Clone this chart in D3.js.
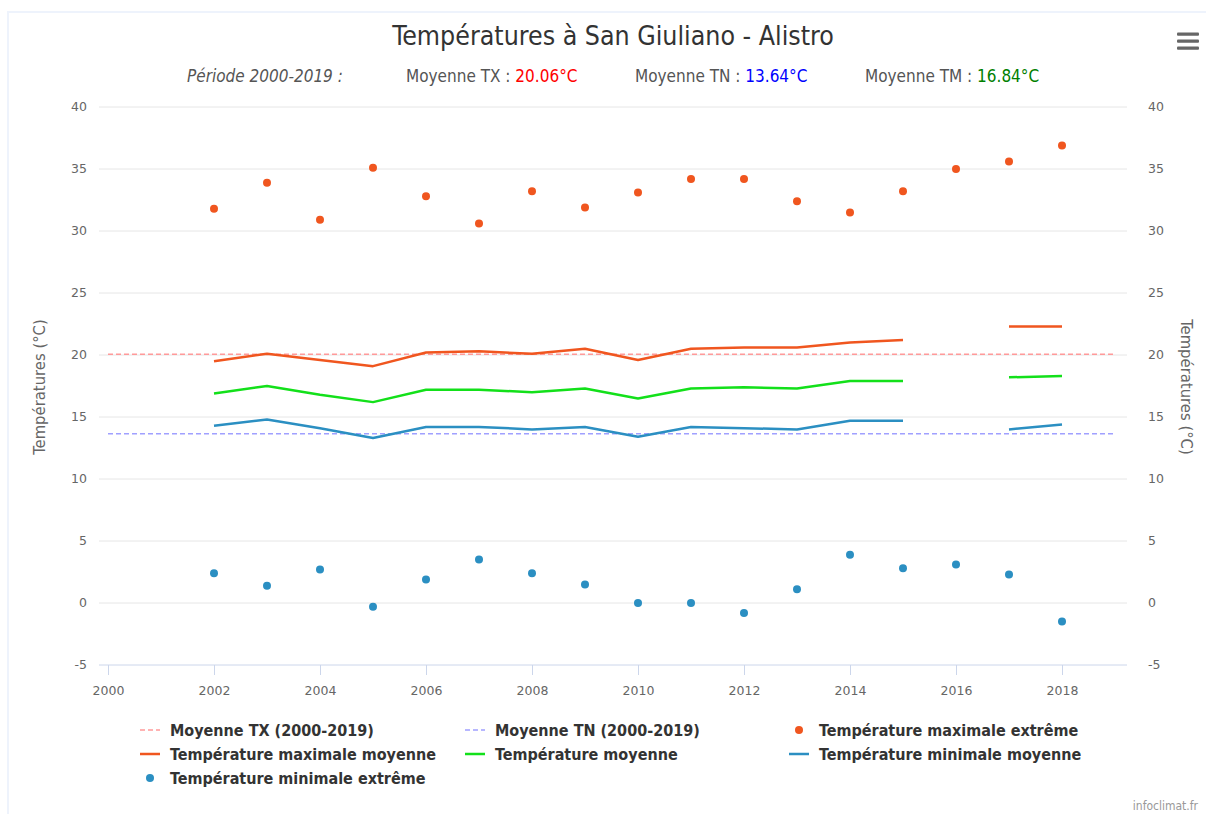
<!DOCTYPE html>
<html>
<head>
<meta charset="utf-8">
<script src="https://cdn.jsdelivr.net/npm/d3@7/dist/d3.min.js"></script>
<style>
  body { margin: 0; background: #fff; }
  svg { display: block; }
  .cond { font-family: "DejaVu Sans Condensed", "Liberation Sans Narrow", "Open Sans", sans-serif; }
  .tick-lbl { font-family: "DejaVu Sans", Verdana, sans-serif; font-size: 12.5px; fill: #666; }
</style>
</head>
<body>
<svg id="chart" width="1206" height="814"></svg>
<script>
// data
const years = [2002, 2003, 2004, 2005, 2006, 2007, 2008, 2009, 2010, 2011, 2012, 2013, 2014, 2015, 2016, 2017, 2018]
const txExtreme = [31.8, 33.9, 30.9, 35.1, 32.8, 30.6, 33.2, 31.9, 33.1, 34.2, 34.2, 32.4, 31.5, 33.2, 35.0, 35.6, 36.9]
const txMean = [19.5, 20.1, 19.6, 19.1, 20.2, 20.3, 20.1, 20.5, 19.6, 20.5, 20.6, 20.6, 21.0, 21.2, null, 22.3, 22.3]
const tmMean = [16.9, 17.5, 16.8, 16.2, 17.2, 17.2, 17.0, 17.3, 16.5, 17.3, 17.4, 17.3, 17.9, 17.9, null, 18.2, 18.3]
const tnMean = [14.3, 14.8, 14.1, 13.3, 14.2, 14.2, 14.0, 14.2, 13.4, 14.2, 14.1, 14.0, 14.7, 14.7, null, 14.0, 14.4]
const tnExtreme = [2.4, 1.4, 2.7, -0.3, 1.9, 3.5, 2.4, 1.5, 0.0, 0.0, -0.8, 1.1, 3.9, 2.8, 3.1, 2.3, -1.5]
const periodYears = [2000, 2019]
const avgTX = 20.06, avgTN = 13.64, avgTM = 16.84
const yTicks = [-5, 0, 5, 10, 15, 20, 25, 30, 35, 40]
const xTicks = [2000, 2002, 2004, 2006, 2008, 2010, 2012, 2014, 2016, 2018]

const colTX = '#f0561f', colTM = '#13e01a', colTN = '#2b8fc2'
const colAvgTX = '#ff9a9a', colAvgTN = '#a0a0ff'

var svg = d3.select('#chart')
var plotLeft = 99, plotRight = 1127

var x = d3.scaleLinear().domain([2000, 2018]).range([108, 1062])
var y = d3.scaleLinear().domain([-5, 40]).range([665, 107])

// faint container border
svg.append('path')
  .attr('d', 'M8,814 V12 H1206')
  .attr('fill', 'none')
  .attr('stroke', '#eef3fc')
  .attr('stroke-width', 2)

// title + subtitle
svg.append('text').attr('class', 'cond')
  .attr('x', 613).attr('y', 45)
  .attr('text-anchor', 'middle')
  .style('font-size', '26.5px').style('fill', '#333')
  .text('Températures à San Giuliano - Alistro')

var sub = svg.append('g').attr('class', 'cond').style('font-size', '17px').style('fill', '#555')
sub.append('text').attr('x', 187).attr('y', 82).style('font-style', 'italic').text('Période 2000-2019 :')
function subItem(xp, label, val, col) {
  var t = sub.append('text').attr('x', xp).attr('y', 82)
  t.append('tspan').text(label + ' : ')
  t.append('tspan').style('fill', col).text(val.toFixed(2) + '°C')
}
subItem(406, 'Moyenne TX', avgTX, '#ff0000')
subItem(635, 'Moyenne TN', avgTN, '#0000ff')
subItem(865, 'Moyenne TM', avgTM, '#008000')

// hamburger
var menu = svg.append('g')
;[34, 41, 48].forEach(function(yy) {
  menu.append('rect').attr('x', 1177).attr('y', yy - 1.5).attr('width', 22).attr('height', 3.2).attr('rx', 1).attr('fill', '#666')
})

// grid
svg.append('g').selectAll('line')
  .data(yTicks.filter(d => d !== -5))
  .enter().append('line')
  .attr('x1', plotLeft).attr('x2', plotRight)
  .attr('y1', d => y(d)).attr('y2', d => y(d))
  .attr('stroke', '#e6e6e6')

// left / right y labels
svg.append('g').selectAll('text')
  .data(yTicks).enter().append('text')
  .attr('class', 'tick-lbl')
  .attr('x', 87).attr('y', d => y(d) + 4)
  .attr('text-anchor', 'end')
  .text(d => d)
svg.append('g').selectAll('text')
  .data(yTicks).enter().append('text')
  .attr('class', 'tick-lbl')
  .attr('x', 1148).attr('y', d => y(d) + 4)
  .text(d => d)

// axis titles
svg.append('text').attr('class', 'cond')
  .attr('transform', 'translate(45,387) rotate(-90)')
  .attr('text-anchor', 'middle')
  .style('font-size', '16.5px').style('fill', '#666')
  .text('Températures (°C)')
svg.append('text').attr('class', 'cond')
  .attr('transform', 'translate(1181,387) rotate(90)')
  .attr('text-anchor', 'middle')
  .style('font-size', '16.5px').style('fill', '#666')
  .text('Températures (°C)')

// x axis
var xAxis = d3.axisBottom(x).tickValues(xTicks).tickFormat(d3.format('d')).tickSize(10).tickSizeOuter(0)
var gx = svg.append('g').attr('transform', 'translate(0,' + y(-5) + ')').call(xAxis)
gx.select('.domain').remove()
gx.selectAll('.tick line').attr('stroke', '#ccd6eb')
gx.selectAll('.tick text').attr('class', 'tick-lbl').attr('dy', null).attr('y', 30).attr('fill', null)
svg.append('line')
  .attr('x1', plotLeft).attr('x2', plotRight)
  .attr('y1', y(-5)).attr('y2', y(-5))
  .attr('stroke', '#ccd6eb')

// reference averages (dashed)
function avgLine(v, col) {
  svg.append('line')
    .attr('x1', x(periodYears[0])).attr('x2', x(periodYears[1]))
    .attr('y1', y(v)).attr('y2', y(v))
    .attr('stroke', col).attr('stroke-width', 1.5)
    .attr('stroke-dasharray', '5,3')
}
avgLine(avgTX, colAvgTX)
avgLine(avgTN, colAvgTN)

// series lines
var line = d3.line()
  .defined(d => d[1] !== null)
  .x(d => x(d[0]))
  .y(d => y(d[1]))
function series(vals, col) {
  svg.append('path')
    .datum(years.map((yr, i) => [yr, vals[i]]))
    .attr('d', line)
    .attr('fill', 'none')
    .attr('stroke', col)
    .attr('stroke-width', 2.5)
    .attr('stroke-linejoin', 'round')
}
series(txMean, colTX)
series(tmMean, colTM)
series(tnMean, colTN)

// extreme points
function dots(vals, col) {
  svg.append('g').selectAll('circle')
    .data(years.map((yr, i) => [yr, vals[i]]))
    .enter().append('circle')
    .attr('cx', d => x(d[0]))
    .attr('cy', d => y(d[1]))
    .attr('r', 4)
    .attr('fill', col)
}
dots(txExtreme, colTX)
dots(tnExtreme, colTN)

// legend
var legendItems = [
  { name: 'Moyenne TX (2000-2019)', col: colAvgTX, type: 'dash' },
  { name: 'Moyenne TN (2000-2019)', col: colAvgTN, type: 'dash' },
  { name: 'Température maximale extrême', col: colTX, type: 'dot' },
  { name: 'Température maximale moyenne', col: colTX, type: 'line' },
  { name: 'Température moyenne', col: colTM, type: 'line' },
  { name: 'Température minimale moyenne', col: colTN, type: 'line' },
  { name: 'Température minimale extrême', col: colTN, type: 'dot' }
]
var colX = [140, 465, 789]
var lg = svg.append('g').attr('class', 'cond')
legendItems.forEach(function(it, i) {
  var gx0 = colX[i % 3], gy = 730 + Math.floor(i / 3) * 24
  var g = lg.append('g').attr('transform', 'translate(' + gx0 + ',' + gy + ')')
  if (it.type === 'dot') {
    g.append('circle').attr('cx', 10).attr('cy', 0).attr('r', 4).attr('fill', it.col)
  } else {
    g.append('line').attr('x1', 0).attr('x2', 20).attr('y1', 0).attr('y2', 0)
      .attr('stroke', it.col).attr('stroke-width', it.type === 'dash' ? 1.5 : 2.5)
      .attr('stroke-dasharray', it.type === 'dash' ? '5,3' : null)
  }
  g.append('text').attr('x', 30).attr('y', 5.5)
    .style('font-size', '16px').style('font-weight', 'bold').style('fill', '#333')
    .text(it.name)
})

// credit
svg.append('text').attr('class', 'cond')
  .attr('x', 1198).attr('y', 810)
  .attr('text-anchor', 'end')
  .style('font-size', '12px').style('fill', '#999')
  .text('infoclimat.fr')
</script>
</body>
</html>
